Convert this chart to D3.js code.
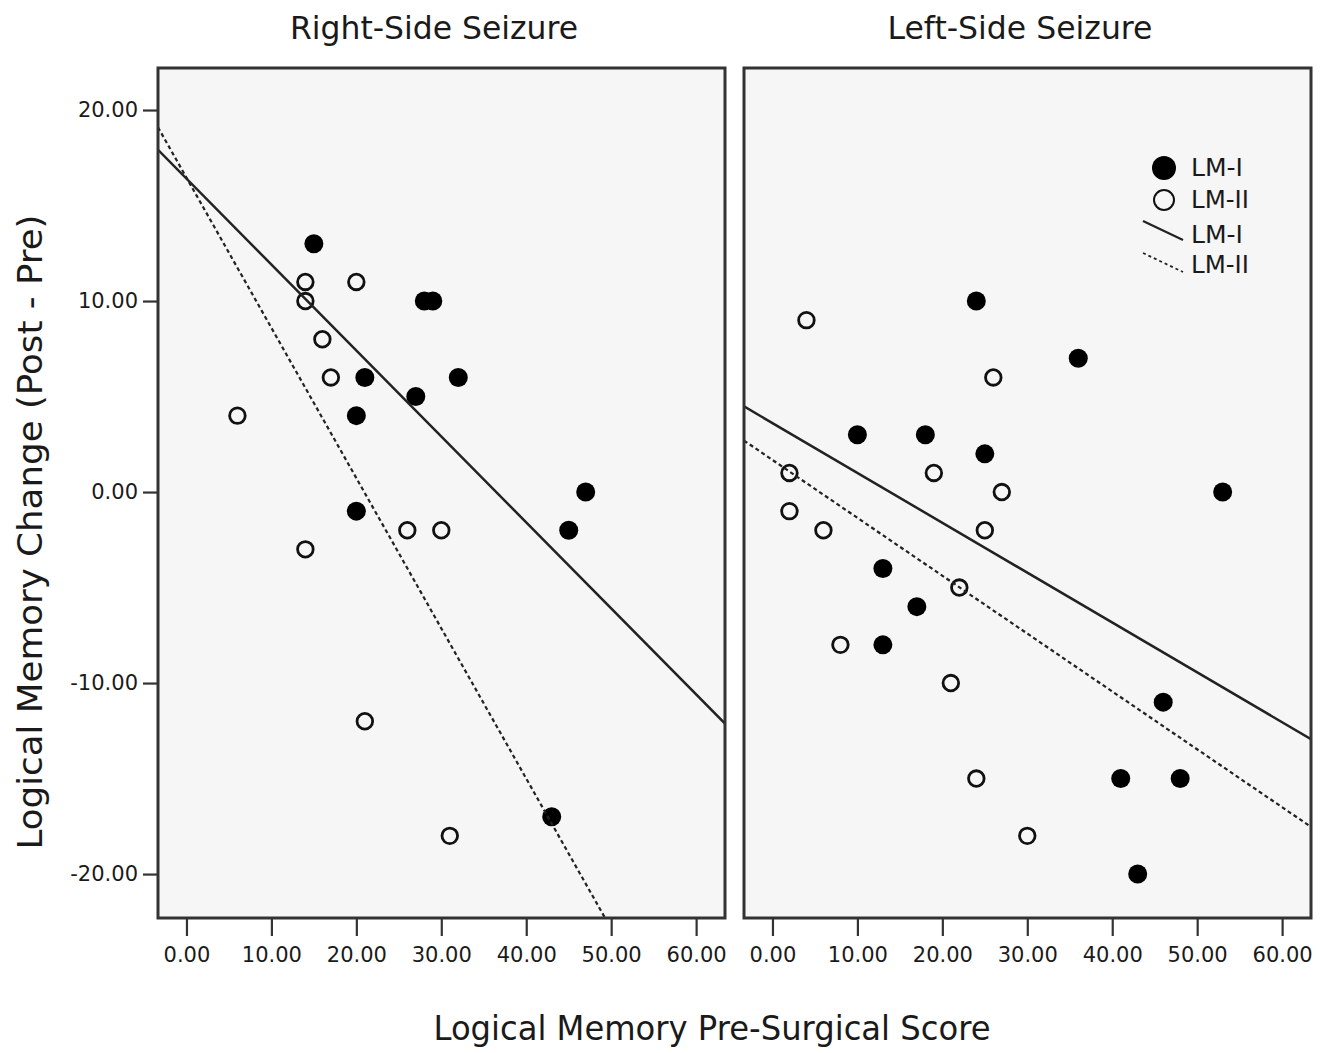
<!DOCTYPE html>
<html>
<head>
<meta charset="utf-8">
<script src="https://cdn.jsdelivr.net/npm/d3@7"></script>
<style>
  body { margin: 0; background: #fff; }
  text { font-family: "DejaVu Sans", sans-serif; fill: #1a1a1a; }
</style>
</head>
<body>
<svg width="1334" height="1053"></svg>
<script>
// panel titles
var panelTitles = ['Right-Side Seizure', 'Left-Side Seizure'];

// Right-Side Seizure: [pre score, change]
var rightLM1 = [[15, 13], [28, 10], [29, 10], [21, 6], [32, 6], [27, 5], [20, 4], [47, 0], [45, -2], [20, -1], [43, -17]];
var rightLM2 = [[14, 11], [14, 10], [20, 11], [16, 8], [17, 6], [6, 4], [26, -2], [30, -2], [14, -3], [21, -12], [31, -18]];

// Left-Side Seizure
var leftLM1 = [[24, 10], [36, 7], [10, 3], [18, 3], [25, 2], [53, 0], [13, -4], [17, -6], [13, -8], [46, -11], [41, -15], [48, -15], [43, -20]];
var leftLM2 = [[4, 9], [26, 6], [2, 1], [19, 1], [27, 0], [2, -1], [6, -2], [25, -2], [22, -5], [8, -8], [21, -10], [24, -15], [30, -18]];

// fit lines: [intercept, slope]
var rightFit1 = [16.41, -0.450];
var rightFit2 = [16.46, -0.7865];
var leftFit1 = [3.61, -0.261];
var leftFit2 = [1.68, -0.303];

// ticks
var xTicks = [0, 10, 20, 30, 40, 50, 60];
var yTicks = [-20, -10, 0, 10, 20];

// legend
var legendLabels = ['LM-I', 'LM-II', 'LM-I', 'LM-II'];

var svg = d3.select('svg');
var plotTop = 68, plotBottom = 918;
var panels = [
  { x0: 158, x1: 725, title: panelTitles[0], lm1: rightLM1, lm2: rightLM2, fit1: rightFit1, fit2: rightFit2, cx: 434 },
  { x0: 744, x1: 1311, title: panelTitles[1], lm1: leftLM1, lm2: leftLM2, fit1: leftFit1, fit2: leftFit2, cx: 1020 }
];

var y = d3.scaleLinear().domain([-22.3, 22.2]).range([plotBottom, plotTop]);
var fmt = d3.formatLocale({ decimal: '.', thousands: ',', grouping: [3], currency: ['', ''], minus: '-' }).format('.2f');

function styleTicks(sel) {
  sel.select('.domain').remove();
  sel.selectAll('line').style('stroke', '#333').style('stroke-width', 2.2);
  sel.selectAll('text').style('font-size', '21px')
    .style('fill', '#1a1a1a').style('font-family', '"DejaVu Sans", sans-serif');
}

panels.forEach(function(p, i) {
  var x = d3.scaleLinear().domain([-3.35, 63.4]).range([p.x0, p.x1]);
  var g = svg.append('g');

  g.append('rect')
    .attr('x', p.x0).attr('y', plotTop)
    .attr('width', p.x1 - p.x0).attr('height', plotBottom - plotTop)
    .style('fill', '#f6f6f6');

  svg.append('clipPath').attr('id', 'clip' + i)
    .append('rect')
    .attr('x', p.x0).attr('y', plotTop)
    .attr('width', p.x1 - p.x0).attr('height', plotBottom - plotTop);

  // open circles
  g.selectAll('.open').data(p.lm2).enter()
    .append('circle')
    .attr('cx', d => x(d[0])).attr('cy', d => y(d[1]))
    .attr('r', 7.8)
    .style('fill', 'none').style('stroke', '#111').style('stroke-width', 2.8);

  // filled circles
  g.selectAll('.filled').data(p.lm1).enter()
    .append('circle')
    .attr('cx', d => x(d[0])).attr('cy', d => y(d[1]))
    .attr('r', 9.5)
    .style('fill', '#000');

  // fit lines
  var dom = x.domain();
  [[p.fit1, null], [p.fit2, '4,3']].forEach(function(f) {
    var c = f[0];
    g.append('path')
      .attr('clip-path', 'url(#clip' + i + ')')
      .attr('d', d3.line().x(d => x(d)).y(d => y(c[0] + c[1] * d))(dom))
      .style('fill', 'none')
      .style('stroke', '#222')
      .style('stroke-width', f[1] ? 2.2 : 2.5)
      .style('stroke-dasharray', f[1]);
  });

  // frame
  g.append('rect')
    .attr('x', p.x0).attr('y', plotTop)
    .attr('width', p.x1 - p.x0).attr('height', plotBottom - plotTop)
    .style('fill', 'none').style('stroke', '#333').style('stroke-width', 3);

  // x axis
  var xa = g.append('g')
    .attr('transform', 'translate(0,' + plotBottom + ')')
    .call(d3.axisBottom(x).tickValues(xTicks).tickFormat(fmt).tickSize(18).tickPadding(11));
  styleTicks(xa);

  // title
  g.append('text')
    .attr('x', p.cx).attr('y', 39)
    .attr('text-anchor', 'middle')
    .attr('textLength', i === 0 ? 288 : 265)
    .attr('lengthAdjust', 'spacingAndGlyphs')
    .style('font-size', '32px')
    .text(p.title);
});

// y axis on first panel
var ya = svg.append('g')
  .attr('transform', 'translate(' + panels[0].x0 + ',0)')
  .call(d3.axisLeft(y).tickValues(yTicks).tickFormat(fmt).tickSize(15).tickPadding(5));
styleTicks(ya);

// axis titles
svg.append('text')
  .attr('x', 712).attr('y', 1040)
  .attr('text-anchor', 'middle')
  .attr('textLength', 557).attr('lengthAdjust', 'spacingAndGlyphs')
  .style('font-size', '33px')
  .text('Logical Memory Pre-Surgical Score');

svg.append('text')
  .attr('transform', 'translate(42,532) rotate(-90)')
  .attr('text-anchor', 'middle')
  .attr('textLength', 635).attr('lengthAdjust', 'spacingAndGlyphs')
  .style('font-size', '33px')
  .text('Logical Memory Change (Post - Pre)');

// legend
var lg = svg.append('g');
lg.append('circle').attr('cx', 1164).attr('cy', 168).attr('r', 12).style('fill', '#000');
lg.append('circle').attr('cx', 1164).attr('cy', 200).attr('r', 10)
  .style('fill', 'none').style('stroke', '#111').style('stroke-width', 2);
lg.append('line').attr('x1', 1143).attr('y1', 221).attr('x2', 1183).attr('y2', 240)
  .style('stroke', '#222').style('stroke-width', 2.2);
lg.append('line').attr('x1', 1143).attr('y1', 253).attr('x2', 1183).attr('y2', 272)
  .style('stroke', '#222').style('stroke-width', 1.8).style('stroke-dasharray', '3,3');
var legendY = [176, 208, 243, 273];
lg.selectAll('.lt').data(legendLabels).enter()
  .append('text')
  .attr('x', 1191).attr('y', (d, i) => legendY[i])
  .attr('textLength', d => d === 'LM-I' ? 52 : 58)
  .attr('lengthAdjust', 'spacingAndGlyphs')
  .style('font-size', '24px')
  .text(d => d);
</script>
</body>
</html>
